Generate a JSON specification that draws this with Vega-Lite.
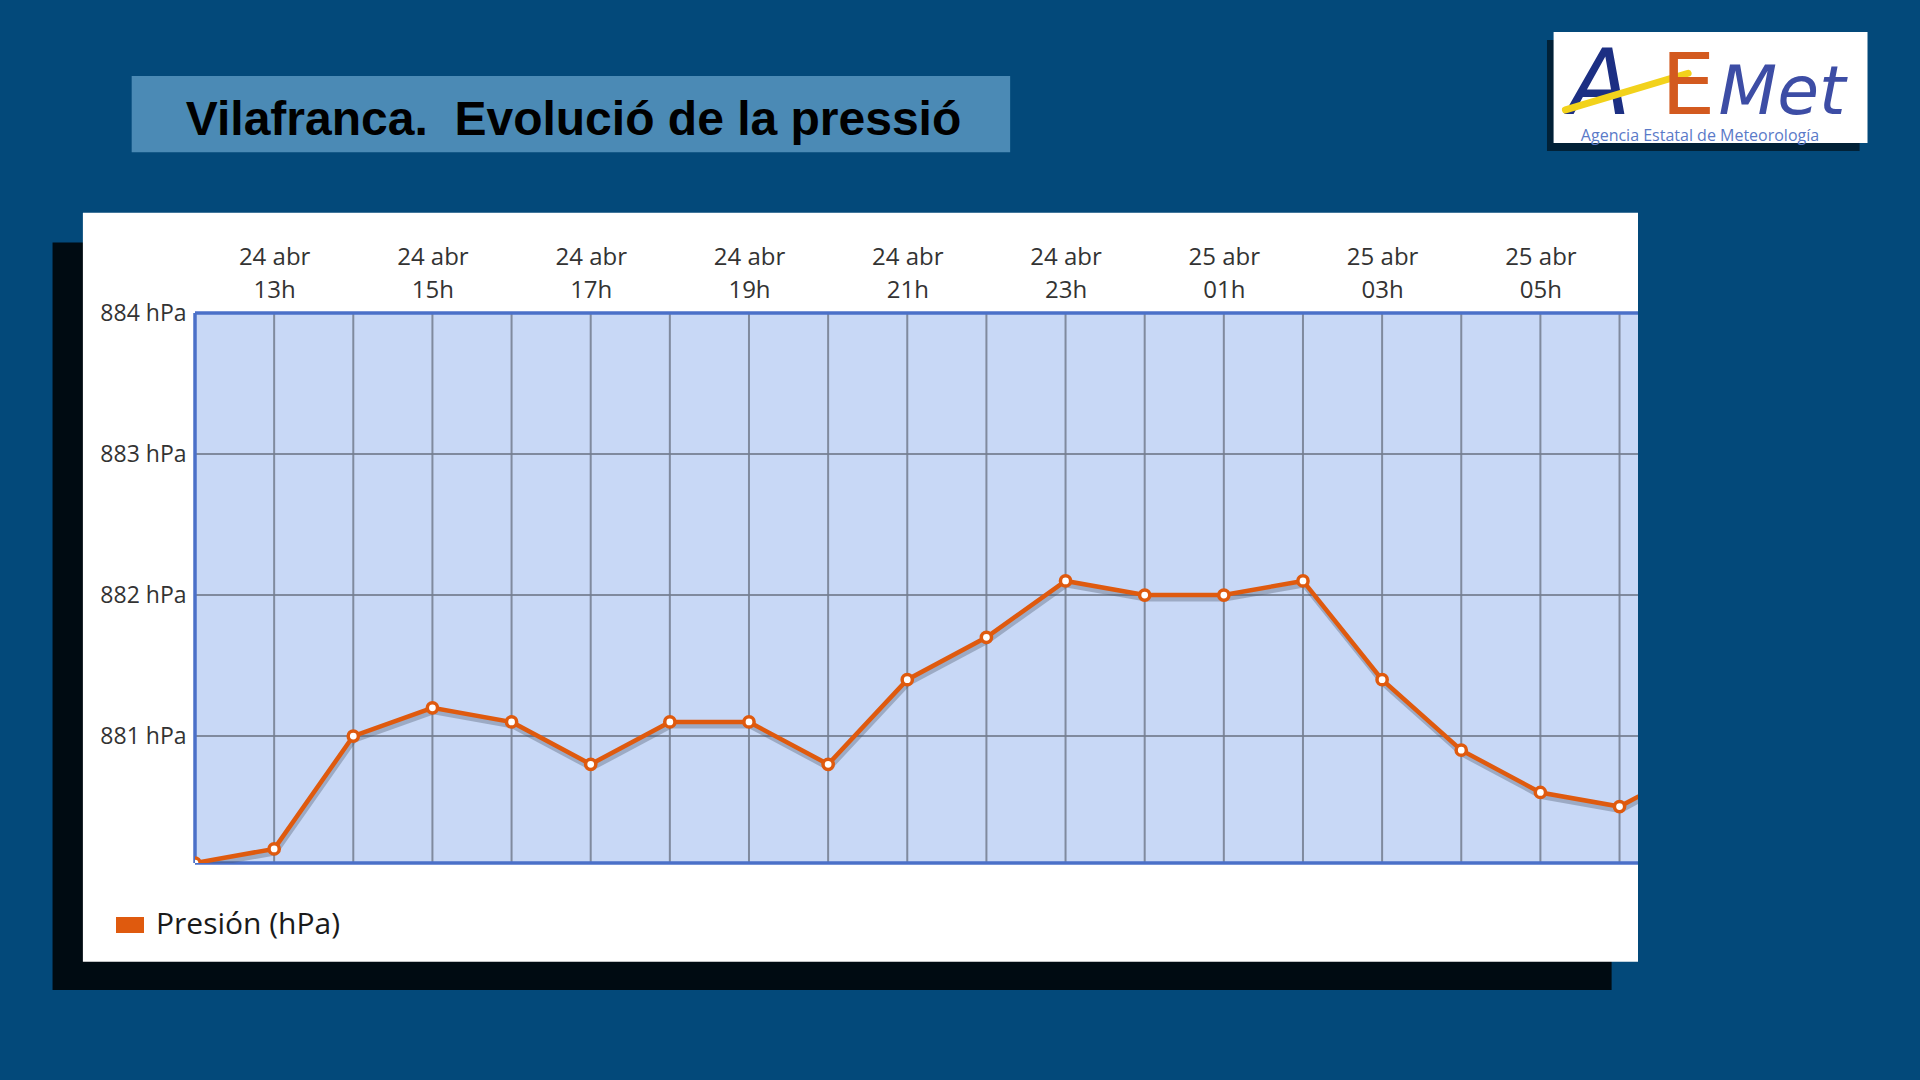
{
  "$schema": "https://vega.github.io/schema/vega-lite/v6.json",
  "width": 1443,
  "height": 550,
  "autosize": {"type": "none"},
  "padding": {"left": 195, "top": 313, "right": 282, "bottom": 217},
  "background": "#03497a",
  "config": {"view": {"stroke": null}, "font": "Open Sans"},
  "data": {
    "values": [
      {"time": "2024-04-24T12:00:00Z", "value": 880.1},
      {"time": "2024-04-24T13:00:00Z", "value": 880.2},
      {"time": "2024-04-24T14:00:00Z", "value": 881.0},
      {"time": "2024-04-24T15:00:00Z", "value": 881.2},
      {"time": "2024-04-24T16:00:00Z", "value": 881.1},
      {"time": "2024-04-24T17:00:00Z", "value": 880.8},
      {"time": "2024-04-24T18:00:00Z", "value": 881.1},
      {"time": "2024-04-24T19:00:00Z", "value": 881.1},
      {"time": "2024-04-24T20:00:00Z", "value": 880.8},
      {"time": "2024-04-24T21:00:00Z", "value": 881.4},
      {"time": "2024-04-24T22:00:00Z", "value": 881.7},
      {"time": "2024-04-24T23:00:00Z", "value": 882.1},
      {"time": "2024-04-25T00:00:00Z", "value": 882.0},
      {"time": "2024-04-25T01:00:00Z", "value": 882.0},
      {"time": "2024-04-25T02:00:00Z", "value": 882.1},
      {"time": "2024-04-25T03:00:00Z", "value": 881.4},
      {"time": "2024-04-25T04:00:00Z", "value": 880.9},
      {"time": "2024-04-25T05:00:00Z", "value": 880.6},
      {"time": "2024-04-25T06:00:00Z", "value": 880.5},
      {"time": "2024-04-25T07:00:00Z", "value": 880.8}
    ]
  },
  "layer": [
    {
      "data": {"values": [{}]},
      "mark": {"type": "rect", "color": "#000000", "opacity": 0.85},
      "encoding": {
        "x": {"datum": 1713953520000, "type": "temporal", "title": null},
        "x2": {"datum": 1714024440000},
        "y": {"datum": 884.5, "type": "quantitative", "title": null},
        "y2": {"datum": 879.2}
      }
    },
    {
      "data": {"values": [{}]},
      "mark": {"type": "rect", "color": "#ffffff"},
      "encoding": {
        "x": {"datum": 1713954900000, "type": "temporal", "title": null},
        "x2": {"datum": 1714025640000},
        "y": {"datum": 884.71, "type": "quantitative", "title": null},
        "y2": {"datum": 879.4}
      }
    },
    {
      "data": {"values": [{}]},
      "mark": {"type": "rect", "color": "#c8d8f6"},
      "encoding": {
        "x": {"datum": 1713960000000, "type": "temporal", "title": null},
        "x2": {"datum": 1714025640000},
        "y": {"datum": 884, "type": "quantitative", "title": null},
        "y2": {"datum": 880.1}
      }
    },
    {
      "data": {"values": [{}]},
      "mark": {"type": "rect", "color": "#4b8ab5"},
      "encoding": {
        "x": {"datum": 1713957120000, "type": "temporal", "title": null},
        "x2": {"datum": 1713997080000},
        "y": {"datum": 885.68, "type": "quantitative", "title": null},
        "y2": {"datum": 885.14}
      }
    },
    {
      "data": {"values": [{}]},
      "mark": {"type": "text", "text": "Vilafranca.\u00a0 Evolució de la pressió", "font": "Liberation Sans", "fontWeight": "bold", "fontSize": 48, "color": "#000000", "align": "center", "baseline": "alphabetic"},
      "encoding": {
        "x": {"datum": 1713977220000, "type": "temporal", "title": null},
        "y": {"datum": 885.262, "type": "quantitative", "title": null}
      }
    },
    {
      "data": {"values": [{}]},
      "mark": {"type": "rect", "color": "#000000", "opacity": 0.55},
      "encoding": {
        "x": {"datum": 1714021500000, "type": "temporal", "title": null},
        "x2": {"datum": 1714035720000},
        "y": {"datum": 885.936, "type": "quantitative", "title": null},
        "y2": {"datum": 885.149}
      }
    },
    {
      "data": {"values": [{}]},
      "mark": {"type": "rect", "color": "#ffffff"},
      "encoding": {
        "x": {"datum": 1714021800000, "type": "temporal", "title": null},
        "x2": {"datum": 1714036080000},
        "y": {"datum": 885.993, "type": "quantitative", "title": null},
        "y2": {"datum": 885.206}
      }
    },
    {
      "data": {"values": [{}]},
      "mark": {"type": "text", "text": "A", "font": "DejaVu Sans", "fontStyle": "italic", "fontSize": 90, "color": "#1c2f83", "align": "center", "baseline": "alphabetic"},
      "encoding": {
        "x": {"datum": 1714023900000, "type": "temporal", "title": null},
        "y": {"datum": 885.41, "type": "quantitative", "title": null}
      }
    },
    {
      "data": {"values": [{}]},
      "mark": {"type": "rule", "color": "#f2d21b", "strokeWidth": 7, "strokeCap": "round"},
      "encoding": {
        "x": {"datum": 1714022340000, "type": "temporal", "title": null},
        "x2": {"datum": 1714027920000},
        "y": {"datum": 885.44, "type": "quantitative", "title": null},
        "y2": {"datum": 885.7}
      }
    },
    {
      "data": {"values": [{}]},
      "mark": {"type": "text", "text": "E", "font": "DejaVu Sans", "fontSize": 86, "color": "#d35a1f", "align": "center", "baseline": "alphabetic"},
      "encoding": {
        "x": {"datum": 1714027920000, "type": "temporal", "title": null},
        "y": {"datum": 885.41, "type": "quantitative", "title": null}
      }
    },
    {
      "data": {"values": [{}]},
      "mark": {"type": "text", "text": "Met", "font": "DejaVu Sans", "fontStyle": "italic", "fontSize": 68, "color": "#3d4da5", "align": "left", "baseline": "alphabetic"},
      "encoding": {
        "x": {"datum": 1714029300000, "type": "temporal", "title": null},
        "y": {"datum": 885.41, "type": "quantitative", "title": null}
      }
    },
    {
      "data": {"values": [{}]},
      "mark": {"type": "text", "text": "Agencia Estatal de Meteorología", "font": "Open Sans", "fontSize": 16, "color": "#5a7ac8", "align": "center", "baseline": "alphabetic"},
      "encoding": {
        "x": {"datum": 1714028460000, "type": "temporal", "title": null},
        "y": {"datum": 885.22, "type": "quantitative", "title": null}
      }
    },
    {
      "data": {"values": [{"p": 881}, {"p": 882}, {"p": 883}]},
      "mark": {"type": "rule", "color": "#737d8e", "strokeWidth": 2, "opacity": 0.85},
      "encoding": {
        "y": {"field": "p", "type": "quantitative", "title": null}
      }
    },
    {
      "mark": {"type": "rule", "color": "#737d8e", "strokeWidth": 2, "opacity": 0.85, "clip": true},
      "encoding": {
        "x": {"field": "time", "type": "temporal", "title": null}
      }
    },
    {
      "data": {"values": [{}]},
      "mark": {"type": "rule", "color": "#4b70c8", "strokeWidth": 3.5},
      "encoding": {
        "y": {"datum": 884, "type": "quantitative", "title": null}
      }
    },
    {
      "data": {"values": [{}]},
      "mark": {"type": "rule", "color": "#4b70c8", "strokeWidth": 3.5},
      "encoding": {
        "y": {"datum": 880.1, "type": "quantitative", "title": null}
      }
    },
    {
      "data": {"values": [{}]},
      "mark": {"type": "rule", "color": "#4b70c8", "strokeWidth": 3.5},
      "encoding": {
        "x": {"datum": 1713960000000, "type": "temporal", "title": null}
      }
    },
    {
      "mark": {"type": "line", "color": "#4a5566", "opacity": 0.35, "strokeWidth": 5, "yOffset": 4, "xOffset": 1, "clip": true},
      "encoding": {
        "x": {"field": "time", "type": "temporal", "title": null},
        "y": {"field": "value", "type": "quantitative", "title": null}
      }
    },
    {
      "mark": {"type": "line", "strokeWidth": 4.5, "clip": true},
      "encoding": {
        "x": {
          "field": "time",
          "type": "temporal",
          "title": null,
          "scale": {"type": "utc", "domain": [1713960000000, 1714025640000]},
          "axis": {
            "orient": "top",
            "values": [1713963600000, 1713970800000, 1713978000000, 1713985200000, 1713992400000, 1713999600000, 1714006800000, 1714014000000, 1714021200000],
            "labelExpr": "[utcFormat(datum.value, '%d') + ' abr', utcFormat(datum.value, '%Hh')]",
            "labelFont": "Open Sans",
            "labelFontSize": 24,
            "labelColor": "#333333",
            "labelLineHeight": 33,
            "labelPadding": 44,
            "labelOverlap": false,
            "labelFlush": false,
            "labelBound": false,
            "ticks": false,
            "domain": false,
            "grid": false,
            "zindex": 1
          }
        },
        "y": {
          "field": "value",
          "type": "quantitative",
          "title": null,
          "scale": {"domain": [880.1, 884], "nice": false, "zero": false},
          "axis": {
            "values": [881, 882, 883, 884],
            "labelExpr": "datum.value + ' hPa'",
            "labelFont": "Open Sans",
            "labelFontSize": 23,
            "labelColor": "#333333",
            "labelPadding": 9,
            "labelFlush": false,
            "ticks": false,
            "domain": false,
            "grid": false,
            "zindex": 1
          }
        },
        "color": {
          "datum": "Presión (hPa)",
          "type": "nominal",
          "scale": {"range": ["#df5a0e"]},
          "legend": {
            "orient": "none",
            "legendX": -80,
            "legendY": 597,
            "title": null,
            "padding": 0,
            "symbolType": "M-1,-0.57L1,-0.57L1,0.57L-1,0.57Z",
            "symbolSize": 784,
            "symbolStrokeWidth": 0,
            "symbolFillColor": "#df5a0e",
            "labelFont": "Open Sans",
            "labelFontSize": 30,
            "labelColor": "#1a1a1a",
            "labelOffset": 11,
            "labelLimit": 400,
            "encode": {"symbols": {"update": {"fill": {"value": "#df5a0e"}, "strokeWidth": {"value": 0}}}}
          }
        }
      }
    },
    {
      "mark": {"type": "point", "shape": "circle", "filled": true, "fill": "#ffffff", "stroke": "#df5a0e", "strokeWidth": 3.5, "size": 105, "opacity": 1, "clip": true},
      "encoding": {
        "x": {"field": "time", "type": "temporal", "title": null},
        "y": {"field": "value", "type": "quantitative", "title": null}
      }
    }
  ]
}
